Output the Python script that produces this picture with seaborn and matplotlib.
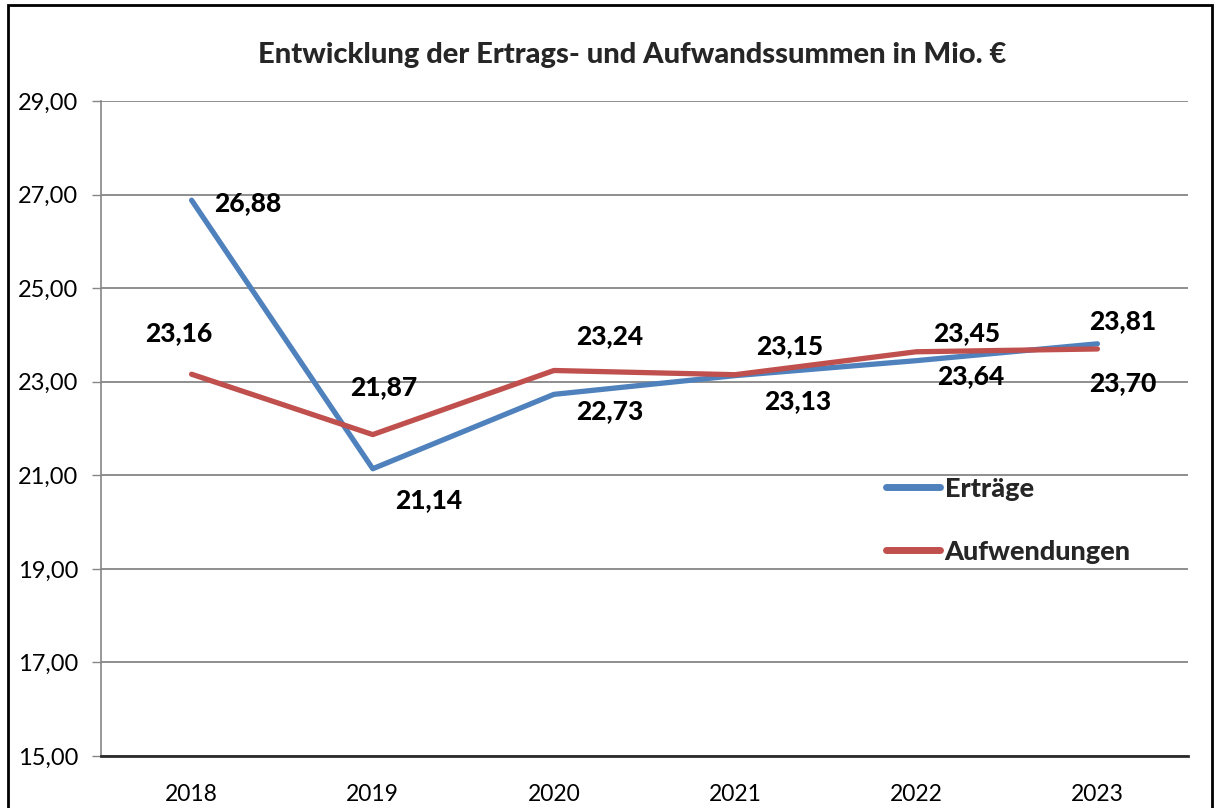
import numpy as np
import pandas as pd
import seaborn as sns
import matplotlib.pyplot as plt
from matplotlib.patches import Rectangle
from matplotlib.lines import Line2D

# data
years = ['2018', '2019', '2020', '2021', '2022', '2023']
ertraege = [26.88, 21.14, 22.73, 23.13, 23.45, 23.81]
aufwendungen = [23.16, 21.87, 23.24, 23.15, 23.64, 23.70]
y_ticks = [15, 17, 19, 21, 23, 25, 27, 29]

# label offsets in pixels (dx, dy), hand placed like in the original sheet
ertraege_off = [(56, -3), (56, -31), (56, -17), (63, -25), (50, 28), (25, 23)]
aufwendungen_off = [(-13, 41), (11, 47), (56, 34), (55, 29), (54, -24), (25, -34)]

blue = '#4F81BD'
red = '#C0504D'

sns.set_theme(style='white')
plt.rcParams['font.family'] = ['Lato', 'DejaVu Sans']

df = pd.DataFrame({
    'pos': list(range(len(years))) * 2,
    'value': ertraege + aufwendungen,
    'series': ['Erträge'] * len(years) + ['Aufwendungen'] * len(years),
})

fig = plt.figure(figsize=(12.17, 8.08), dpi=100)
ax = fig.add_axes([101 / 1217, 1 - 756 / 808, 1087 / 1217, 655 / 808])

sns.lineplot(data=df, x='pos', y='value', hue='series',
             palette={'Erträge': blue, 'Aufwendungen': red},
             linewidth=3.8, ax=ax, legend=False, sort=False)

ax.set_xlim(-0.5, len(years) - 0.5)
ax.set_ylim(15, 29)
ax.set_yticks(y_ticks)
ax.set_yticklabels([f'{v:.2f}'.replace('.', ',') for v in y_ticks])
ax.set_xticks(range(len(years)))
ax.set_xticklabels(years)
ax.set_xticks(np.arange(-0.5, len(years)), minor=True)
ax.tick_params(axis='x', which='major', length=0, pad=20, labelsize=16.5, colors='black')
ax.tick_params(axis='x', which='minor', length=5, width=1.2, color='#3a3a3a', direction='out')
ax.tick_params(axis='y', length=6.5, width=1, color='#868686', pad=10, labelsize=17, colors='black',
               left=True)
ax.set_xlabel('')
ax.set_ylabel('')

ax.yaxis.grid(True, color='#868686', linewidth=1.3)
ax.set_axisbelow(True)
for side in ['top', 'right']:
    ax.spines[side].set_visible(False)
ax.spines['left'].set_color('#868686')
ax.spines['left'].set_linewidth(1.2)
ax.spines['bottom'].set_color('#2b2b2b')
ax.spines['bottom'].set_linewidth(2)

# data labels
for i in range(len(years)):
    for vals, offs in ((ertraege, ertraege_off), (aufwendungen, aufwendungen_off)):
        ax.annotate(f'{vals[i]:.2f}'.replace('.', ','), (i, vals[i]),
                    xytext=offs[i], textcoords='offset pixels',
                    ha='center', va='center', fontsize=19, fontweight='black', color='black')

handles = [Line2D([], [], color=blue, linewidth=5, solid_capstyle='round'),
           Line2D([], [], color=red, linewidth=5, solid_capstyle='round')]
ax.legend(handles, ['Erträge', 'Aufwendungen'], loc='center left',
          bbox_to_anchor=(0.7, 0.36), frameon=False, handlelength=2.0,
          handletextpad=0.15, labelspacing=1.45,
          prop={'size': 19.5, 'weight': 'black'})

fig.text(632 / 1217, 1 - 55 / 808, 'Entwicklung der Ertrags- und Aufwandssummen in Mio. €',
         ha='center', va='center', fontsize=21, fontweight='black')

# chart area border
fig.patches.append(Rectangle((8 / 1217, -0.05), 1204 / 1217, 1 - 5 / 808 + 0.05,
                             transform=fig.transFigure, fill=False,
                             edgecolor='black', linewidth=2))

fig.savefig('out.png', dpi=100)
